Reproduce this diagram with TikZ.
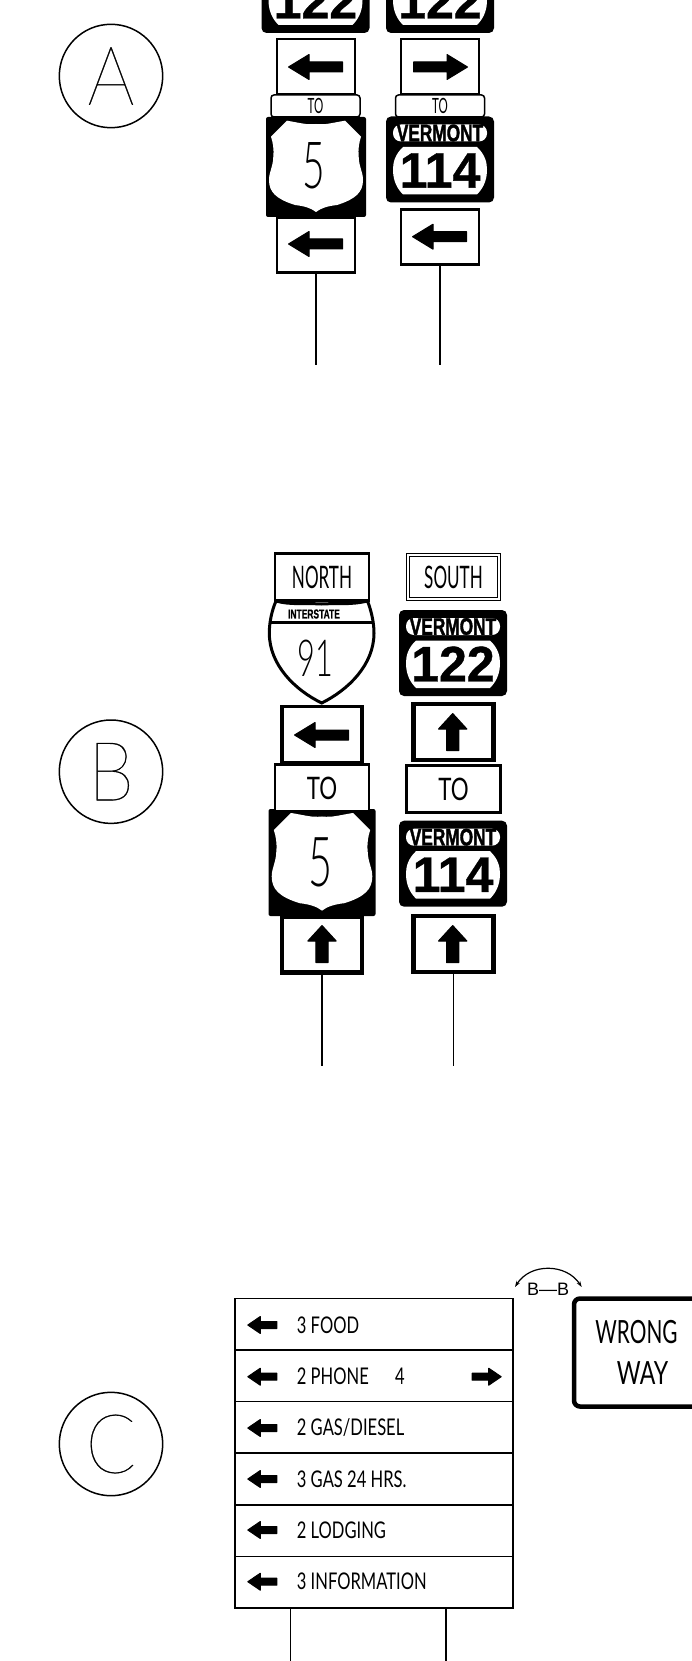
\documentclass[tikz,border=0pt]{standalone}
\usepackage{fontspec}
\usetikzlibrary{arrows.meta}
\setmainfont{Liberation Sans}
\newfontfamily\cadfont[FakeStretch=0.72]{Lato}
\newfontfamily\narrowfont[FakeStretch=0.55]{Lato}
\newfontfamily\wrongfont[FakeStretch=0.65]{Lato}
\newfontfamily\digitfont[FakeStretch=0.6]{Lato Light}
\newfontfamily\thinfont[FakeStretch=0.9,FakeBold=0.4]{Lato Thin}
\newfontfamily\vtfont[FakeBold=0.8]{Liberation Sans Bold}
\newfontfamily\vtnamefont[FakeBold=1.5,FakeStretch=0.72]{Liberation Sans Bold}
\newfontfamily\interfont[FakeBold=0.5,FakeStretch=0.65]{Liberation Sans Bold}
\newcommand{\cadsize}[1]{\fontsize{#1}{#1}\cadfont\selectfont}
\newcommand{\narrowsize}[1]{\fontsize{#1}{#1}\narrowfont\selectfont}
\newcommand{\digitsize}[1]{\fontsize{#1}{#1}\digitfont\selectfont}
\newcommand{\vtsize}[1]{\fontsize{#1}{#1}\vtfont\selectfont}
\tikzset{
	signbox/.style={draw,rectangle,line width=2.5pt,fill=white,inner sep=0pt},
	arrowbox/.style={signbox,minimum width=78pt,minimum height=55pt},
	upbox/.style={signbox,line width=4.5pt,minimum width=80pt,minimum height=56pt},
	tobox/.style={draw,rectangle,rounded corners=3pt,line width=1.5pt,fill=white,minimum width=89pt,minimum height=22pt,inner sep=0pt,font=\narrowsize{21}},
	namebox/.style={signbox,minimum width=94pt,minimum height=47pt,font=\narrowsize{31}},
	tablerow/.style={draw,rectangle,line width=1.5pt,fill=white,minimum width=278.3pt,minimum height=51.5pt,inner sep=0pt},
	rowtext/.style={anchor=west,inner sep=0pt,font=\cadsize{23}},
	roundlabel/.style={draw,circle,line width=1.5pt,minimum size=103.4pt,inner sep=0pt,font=\fontsize{82}{82}\thinfont\selectfont},
	vtname/.style={inner sep=0pt,font=\fontsize{24}{24}\vtnamefont\selectfont},
	post/.style={line width=1.5pt},
	pics/bigarrow/.style={code={
		\filldraw[line width=1pt,line join=round] (27,0) -- (6.5,-12.5) -- (6.5,-5) -- (-27,-5) -- (-27,5) -- (6.5,5) -- (6.5,12.5) -- cycle;
	}},
	pics/uparrow/.style={code={
		\filldraw[line width=1pt,line join=round] (18.5,0) -- (3,-14.2) -- (3,-6.2) -- (-18.5,-6.2) -- (-18.5,6.2) -- (3,6.2) -- (3,14.2) -- cycle;
	}},
	pics/rowarrow/.style={code={
		\filldraw[line width=1pt,line join=round] (14.5,0) -- (2,-8.5) -- (2,-3.5) -- (-14.5,-3.5) -- (-14.5,3.5) -- (2,3.5) -- (2,8.5) -- cycle;
	}},
	pics/usshield/.style={code={
		\fill[rounded corners=2pt] (-50,-50) rectangle (50,50);
		\fill[white] (-29,-46.3) .. controls (-15,-44) and (-10,-42) .. (0,-43)
			.. controls (10,-42) and (15,-44) .. (29,-46.3) -- (45,-30.3)
			.. controls (43,-24) and (42,-18) .. (42.7,-10.3)
			.. controls (43,0) and (47,5) .. (47,13)
			.. controls (47,25) and (40,32) .. (21,38)
			.. controls (12,39) and (5,41) .. (0,45)
			.. controls (-5,41) and (-12,39) .. (-21,38)
			.. controls (-40,32) and (-47,25) .. (-47,13)
			.. controls (-47,5) and (-43,0) .. (-42.7,-10.3)
			.. controls (-42,-18) and (-43,-24) .. (-45,-30.3) -- cycle;
	}},
	pics/vtshield/.style={code={
		\fill[rounded corners=5pt] (-54,-43) rectangle (54,43);
		\fill[white,rounded corners=8pt] (-47,-35) rectangle (47,-18);
		\fill[white] (-37,-12.5) -- (37,-12.5) .. controls (45,-5) and (47,3) .. (47,10)
			.. controls (47,18) and (45,27) .. (37,35) -- (-37,35)
			.. controls (-45,27) and (-47,18) .. (-47,10)
			.. controls (-47,3) and (-45,-5) .. (-37,-12.5) -- cycle;
		\node[inner sep=0pt,font=\vtsize{50}] (-route) at (0,11) {#1};
	}}
}
\begin{document}
\begin{tikzpicture}[x=1pt,y=-1pt]
	\useasboundingbox (0,0) rectangle (692,1661);

	% section A
	\node[roundlabel] (seca) at (111,76) {A};

	\pic at (315.5,-10) {vtshield=122};
	\pic at (440,-10) {vtshield=122};
	\node[arrowbox] (abox1) at (316,66.5) {};
	\node[arrowbox] (abox2) at (440,66.5) {};
	\pic[rotate=180] at (315.5,67) {bigarrow};
	\pic at (440.5,67) {bigarrow};

	\pic at (316,167) {usshield};
	\node[inner sep=0pt,font=\digitsize{65}] (afive) at (314,166) {5};
	\node[tobox] (ato1) at (315.5,106) {TO};
	\node[tobox] (ato2) at (440,106) {TO};
	\pic at (440,159.5) {vtshield=114};
	\node[vtname] (avt) at (440,133) {VERMONT};
	\node[arrowbox] (abox3) at (316,245) {};
	\node[arrowbox] (abox4) at (440,237) {};
	\pic[rotate=180] at (315.5,244) {bigarrow};
	\pic[rotate=180] at (439.5,236.7) {bigarrow};
	\coordinate (apost1) at (316,365);
	\coordinate (apost2) at (440,365);
	\draw[post] (abox3.south) -- (apost1);
	\draw[post] (abox4.south) -- (apost2);

	% section B
	\node[roundlabel] (secb) at (111,771.7) {B};

	\draw[line width=3pt,fill=white] (276,601) .. controls (272,610) and (269.3,622) .. (269.3,633)
		.. controls (269.3,665) and (295,690) .. (321.7,703)
		.. controls (348,690) and (374,665) .. (374,633)
		.. controls (374,622) and (371,610) .. (367.5,601)
		.. controls (350,605) and (340,603) .. (321.7,604)
		.. controls (305,603) and (290,605) .. (276,601) -- cycle;
	\draw[line width=2.5pt] (271,622.7) -- (372.5,622.7);
	\node[inner sep=0pt,font=\fontsize{13}{13}\interfont\selectfont] (binter) at (314,614) {INTERSTATE};
	\node[inner sep=0pt,font=\digitsize{51}] (bnine) at (315.7,658) {91};
	\node[namebox] (bnorth) at (322,577) {NORTH};
	\node[signbox,double,line width=1pt,double distance=1.5pt,minimum width=91pt,minimum height=44pt,font=\narrowsize{31}] (bsouth) at (453.5,577) {SOUTH};
	\pic at (453,653) {vtshield=122};
	\node[vtname] (bvt1) at (453,626.5) {VERMONT};
	\node[signbox,line width=3.5pt,minimum width=80pt,minimum height=56pt] (bbox1) at (322,734.5) {};
	\pic[rotate=180] at (321.5,735) {bigarrow};
	\node[upbox] (bbox2) at (453.5,732) {};
	\pic[rotate=90] at (452.7,732) {uparrow};
	\pic[scale=1.07] at (322,862.5) {usshield};
	\node[inner sep=0pt,font=\digitsize{69}] (bfive) at (320.7,862) {5};
	\node[namebox,font=\cadsize{31}] (bto1) at (322,788) {TO};
	\node[namebox,font=\cadsize{31}] (bto2) at (453.5,789) {TO};
	\pic at (453,863.7) {vtshield=114};
	\node[vtname] (bvt2) at (453,837.2) {VERMONT};
	\node[upbox] (bbox3) at (322,944.5) {};
	\pic[rotate=90] at (322,944) {uparrow};
	\node[upbox] (bbox4) at (453.5,944) {};
	\pic[rotate=90] at (452.7,944) {uparrow};
	\coordinate (bpost1) at (322,1066);
	\coordinate (bpost2) at (453.5,1066);
	\draw[post] (bbox3.south) -- (bpost1);
	\draw[post] (bbox4.south) -- (bpost2);

	% section C
	\node[roundlabel] (secc) at (111,1444) {C};

	\node[tablerow] (row1) at (374,1324) {};
	\node[tablerow] (row2) at (374,1375.5) {};
	\node[tablerow] (row3) at (374,1427) {};
	\node[tablerow] (row4) at (374,1478.5) {};
	\node[tablerow] (row5) at (374,1530.5) {};
	\node[tablerow] (row6) at (374,1582) {};
	\pic[rotate=180] at (262.3,1325) {rowarrow};
	\pic[rotate=180] at (262.3,1376.7) {rowarrow};
	\pic at (486.7,1376.7) {rowarrow};
	\pic[rotate=180] at (262.3,1428) {rowarrow};
	\pic[rotate=180] at (262.3,1479) {rowarrow};
	\pic[rotate=180] at (262.3,1530) {rowarrow};
	\pic[rotate=180] at (262.3,1581.7) {rowarrow};
	\node[rowtext] (text1) at (296.7,1325) {3 FOOD};
	\node[rowtext] (text2) at (296.7,1376.7) {2 PHONE};
	\node[rowtext] (text2b) at (395,1376.7) {4};
	\node[rowtext] (text3) at (296.7,1428) {2 GAS/DIESEL};
	\node[rowtext] (text4) at (296.7,1479) {3 GAS 24 HRS.};
	\node[rowtext] (text5) at (296.7,1530) {2 LODGING};
	\node[rowtext] (text6) at (296.7,1581.7) {3 INFORMATION};
	\coordinate (leg1) at (290.7,1661);
	\coordinate (leg2) at (446,1661);
	\draw[post] (leg1 |- row6.south) -- (leg1);
	\draw[post] (leg2 |- row6.south) -- (leg2);

	\node[signbox,line width=4.5pt,rounded corners=6pt,minimum width=140pt,minimum height=108pt] (wrong) at (644,1352.5) {};
	\node[inner sep=0pt,font=\fontsize{32}{32}\wrongfont\selectfont] (wrong1) at (636.5,1331.7) {WRONG};
	\node[inner sep=0pt,font=\cadsize{32}] (wrong2) at (642.5,1373) {WAY};

	\node[inner sep=0pt,font=\fontsize{18}{18}\selectfont] (bb) at (548,1289) {B—B};
	\coordinate (bbl) at (515,1287);
	\coordinate (bbr) at (581.7,1287);
	\draw[line width=1.2pt,{Stealth[length=6pt,width=4pt]}-{Stealth[length=6pt,width=4pt]}] (bbl) .. controls (530,1263) and (566,1263) .. (bbr);
\end{tikzpicture}
\end{document}
